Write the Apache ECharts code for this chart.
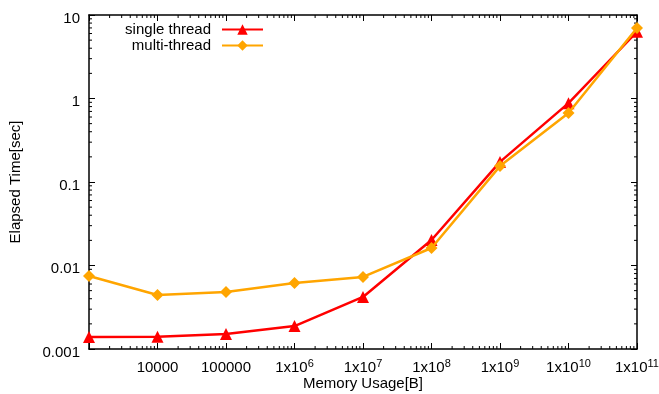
<!DOCTYPE html>
<html>
<head>
<meta charset="utf-8">
<script src="https://cdn.jsdelivr.net/npm/echarts@6/dist/echarts.min.js"></script>
<style>html,body{margin:0;padding:0;background:#fff;}#c{width:659px;height:394px;}</style>
</head>
<body>
<div id="c"></div>
<script>
const memoryUsage = [1000, 1e4, 1e5, 1e6, 1e7, 1e8, 1e9, 1e10, 1e11];
const singleThread = [0.00139, 0.00140, 0.00151, 0.00188, 0.0042, 0.0202, 0.174, 0.88, 6.3];
const multiThread = [0.0075, 0.00443, 0.00482, 0.00617, 0.0073, 0.0162, 0.155, 0.67, 7.0];
const xTickExponents = [3, 4, 5, 6, 7, 8, 9, 10, 11];
const xTickLabels = ['', '10000', '100000', '1x10{sup|6}', '1x10{sup|7}', '1x10{sup|8}', '1x10{sup|9}', '1x10{sup|10}', '1x10{sup|11}'];
const yTickExponents = [-3, -2, -1, 0, 1];
const yTickLabels = ['0.001', '0.01', '0.1', '1', '10'];

const X_MIN = 1000, X_MAX = 1e11, Y_MIN = 0.001, Y_MAX = 10;
const FONT = "'Liberation Sans', Arial, Helvetica, sans-serif";
const FS = 15;

const minorX = [];
for (let d = 3; d < 11; d++) for (let k = 2; k <= 9; k++) minorX.push(k * Math.pow(10, d));
const minorY = [];
for (let d = -3; d < 1; d++) for (let k = 2; k <= 9; k++) minorY.push(k * Math.pow(10, d));

function lbl(arrE, arrT, v) {
  const e = Math.round(Math.log10(v));
  const i = arrE.indexOf(e);
  return i >= 0 ? arrT[i] : '';
}

const chart = echarts.init(document.getElementById('c'), null, {renderer: 'canvas'});
const tickStyle = {stroke: '#000', lineWidth: 1};
const legendText = {fontFamily: FONT, fontSize: FS, color: '#000', padding: [0, 6, 0, 0]};
const option = {
  animation: false,
  textStyle: {fontFamily: FONT},
  grid: {left: 89, right: 22, top: 15, bottom: 45, containLabel: false, outerBoundsMode: 'none'},
  legend: [
    {data: ['single thread'], right: 390, top: 17, align: 'right', itemWidth: 41, itemHeight: 13,
     textStyle: legendText},
    {data: ['multi-thread'], right: 390, top: 33, align: 'right', itemWidth: 41, itemHeight: 13,
     textStyle: legendText}
  ],
  xAxis: [{
    type: 'log', logBase: 10, min: X_MIN, max: X_MAX, interval: 1,
    name: 'Memory Usage[B]', nameLocation: 'middle', nameGap: 27, nameMoveOverlap: false,
    nameTextStyle: {fontFamily: FONT, fontSize: FS, color: '#000'},
    axisLine: {lineStyle: {color: '#000', width: 1.5}},
    axisTick: {inside: true, length: 6, lineStyle: {color: '#000', width: 1}},
    splitLine: {show: false},
    axisLabel: {
      margin: 9, color: '#000', fontFamily: FONT, fontSize: FS, lineHeight: 20,
      formatter: v => lbl(xTickExponents, xTickLabels, v),
      rich: {sup: {fontSize: 11, fontFamily: FONT, color: '#000', verticalAlign: 'top', lineHeight: 10}}
    }
  }, {
    type: 'log', logBase: 10, min: X_MIN, max: X_MAX, interval: 1, position: 'top',
    axisLine: {lineStyle: {color: '#000', width: 1.5}},
    axisTick: {inside: true, length: 6, lineStyle: {color: '#000', width: 1}},
    splitLine: {show: false}, axisLabel: {show: false}
  }],
  yAxis: [{
    type: 'log', logBase: 10, min: Y_MIN, max: Y_MAX, interval: 1,
    name: 'Elapsed Time[sec]', nameLocation: 'middle', nameGap: 66, nameMoveOverlap: false,
    nameTextStyle: {fontFamily: FONT, fontSize: FS, color: '#000'},
    axisLine: {lineStyle: {color: '#000', width: 1.5}},
    axisTick: {inside: true, length: 6, lineStyle: {color: '#000', width: 1}},
    splitLine: {show: false},
    axisLabel: {margin: 9, color: '#000', fontFamily: FONT, fontSize: FS,
      verticalAlign: 'top', lineHeight: 7,
      formatter: v => lbl(yTickExponents, yTickLabels, v)}
  }, {
    type: 'log', logBase: 10, min: Y_MIN, max: Y_MAX, interval: 1, position: 'right',
    axisLine: {lineStyle: {color: '#000', width: 1.5}},
    axisTick: {inside: true, length: 6, lineStyle: {color: '#000', width: 1}},
    splitLine: {show: false}, axisLabel: {show: false}
  }],
  series: [
    {
      name: 'single thread', type: 'line', xAxisIndex: 0, yAxisIndex: 0,
      data: memoryUsage.map((x, i) => [x, singleThread[i]]),
      symbol: 'triangle', symbolSize: 12, z: 3,
      lineStyle: {color: '#ff0000', width: 2.5}, itemStyle: {color: '#ff0000'}
    },
    {
      name: 'multi-thread', type: 'line', xAxisIndex: 0, yAxisIndex: 0,
      data: memoryUsage.map((x, i) => [x, multiThread[i]]),
      symbol: 'diamond', symbolSize: 12, z: 4,
      lineStyle: {color: '#ffa500', width: 2.5}, itemStyle: {color: '#ffa500'}
    },
    {
      name: 'minorX', type: 'custom', silent: true, clip: false, z: 1,
      data: minorX.map(v => [v, Y_MIN]),
      renderItem: (params, api) => {
        const x = api.value(0);
        const b = api.coord([x, Y_MIN]);
        const t = api.coord([x, Y_MAX]);
        return {type: 'group', children: [
          {type: 'line', shape: {x1: b[0], y1: b[1], x2: b[0], y2: b[1] - 3}, style: tickStyle},
          {type: 'line', shape: {x1: t[0], y1: t[1], x2: t[0], y2: t[1] + 3}, style: tickStyle}
        ]};
      }
    },
    {
      name: 'minorY', type: 'custom', silent: true, clip: false, z: 1,
      data: minorY.map(v => [X_MIN, v]),
      renderItem: (params, api) => {
        const y = api.value(1);
        const l = api.coord([X_MIN, y]);
        const r = api.coord([X_MAX, y]);
        return {type: 'group', children: [
          {type: 'line', shape: {x1: l[0], y1: l[1], x2: l[0] + 3, y2: l[1]}, style: tickStyle},
          {type: 'line', shape: {x1: r[0], y1: r[1], x2: r[0] - 3, y2: r[1]}, style: tickStyle}
        ]};
      }
    }
  ]
};
chart.setOption(option);
</script>
</body>
</html>
